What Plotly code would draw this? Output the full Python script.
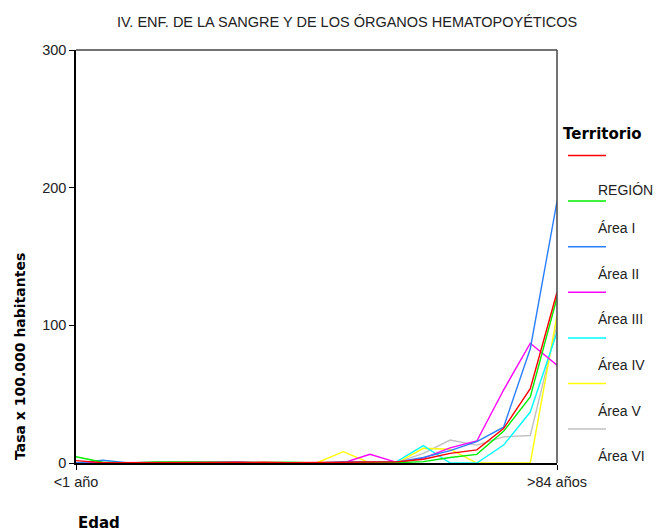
import plotly.graph_objects as go

# ── data ─────────────────────────────────────────────────────────────────────

EDADES = ["<1 año", "1-4", "5-9", "10-14", "15-19", "20-24", "25-29", "30-34",
          "35-39", "40-44", "45-49", "50-54", "55-59", "60-64", "65-69",
          "70-74", "75-79", "80-84", ">84 años"]

REGION = [1.7, 0.3, 0.2, 0.3, 0.5, 0.4, 0.6, 0.5, 0.2, 0.2, 0.5, 0.7, 0.8, 2.7, 7, 9.5, 25, 54, 124]
AREA_I = [4.5, 0.5, 0, 0.8, 0.7, 0.5, 0.3, 0.4, 0.5, 0, 0.3, 0.4, 0.2, 1, 4, 6.3, 23, 48, 120]
AREA_II = [0, 2, 0, 0, 0, 0.5, 0.3, 0, 0, 0, 1, 0.5, 0.5, 4, 9, 15.5, 26, 83, 190]
AREA_III = [0, 0, 0, 0, 0, 0.5, 1, 0, 0, 0, 0, 6.3, 0.5, 3.5, 11, 16, 53, 87, 71]
AREA_IV = [0, 0, 0, 0, 0, 0, 0, 0, 0, 0, 0, 0, 1, 12.6, 0, 0, 13, 37, 95]
AREA_V = [0, 0, 0, 0, 0, 0, 0, 0, 0, 0, 8.2, 0, 0, 10.7, 10, 0, 0, 0, 107]
AREA_VI = [0, 0, 0, 0, 0.5, 0.8, 0.5, 0, 0, 0, 0, 0, 0.5, 7, 16.7, 13, 19, 20, 100]

SERIES = [
    ("REGIÓN", REGION, "#ff0000"),
    ("Área I", AREA_I, "#00ee00"),
    ("Área II", AREA_II, "#2a7fff"),
    ("Área III", AREA_III, "#ff00ff"),
    ("Área IV", AREA_IV, "#00ffff"),
    ("Área V", AREA_V, "#ffff00"),
    ("Área VI", AREA_VI, "#c0c0c0"),
]

FONT = "Arial, Liberation Sans, sans-serif"
BOLD = "DejaVu Sans"

# plot area in page pixels (the page body adds an 8px offset)
PLOT_L, PLOT_R, PLOT_T, PLOT_B = 76, 557, 50, 463


def px_x(x):
    return (x - PLOT_L) / (PLOT_R - PLOT_L)


def px_y(y):
    return (PLOT_B - y) / (PLOT_B - PLOT_T)


# ── figure ───────────────────────────────────────────────────────────────────

fig = go.Figure()
# draw in reverse so REGIÓN sits on top
for name, values, color in reversed(SERIES):
    fig.add_trace(go.Scatter(
        x=EDADES, y=values, mode="lines", name=name,
        line=dict(color=color, width=1.4),
    ))

fig.update_layout(
    width=654, height=524,
    margin=dict(l=PLOT_L - 8, r=654 - (PLOT_R - 8), t=PLOT_T - 8, b=524 - (PLOT_B - 8)),
    paper_bgcolor="white", plot_bgcolor="white",
    font=dict(family=FONT, size=14.5, color="#222"),
    title=dict(text="IV. ENF. DE LA SANGRE Y DE LOS ÓRGANOS HEMATOPOYÉTICOS",
               x=109 / 654, xanchor="left", y=1 - 14 / 524, yanchor="middle",
               font=dict(size=14.5, color="#222")),
    showlegend=False,
)

fig.update_xaxes(
    type="category", range=[0, len(EDADES) - 1],
    tickvals=[EDADES[0], EDADES[-1]],
    ticks="outside", ticklen=5, tickcolor="black",
    showline=True, linecolor="black", linewidth=1.5,
    showgrid=False, zeroline=False,
)
fig.update_yaxes(
    range=[0, 300], tickvals=[0, 100, 200, 300],
    ticks="outside", ticklen=5, tickcolor="black",
    showline=True, linecolor="black", linewidth=1.5,
    showgrid=False, zeroline=False,
)

# top and right frame lines
fig.add_shape(type="line", xref="paper", yref="paper", x0=0, x1=1, y0=1, y1=1,
              line=dict(color="#444", width=1.5))
fig.add_shape(type="line", xref="paper", yref="paper", x0=1, x1=1, y0=0, y1=1,
              line=dict(color="#444", width=1.5))

# ── legend: key line above, label below (drawn by hand) ──────────────────────
fig.add_annotation(text="<b>Territorio</b>", xref="paper", yref="paper",
                   x=px_x(561), y=px_y(134), xanchor="left", yanchor="middle",
                   showarrow=False, font=dict(family=BOLD, size=15, color="black"))
for i, (name, _, color) in enumerate(SERIES):
    line_y = 155.5 + 45.6 * i
    text_y = line_y + (34 if i == 0 else 27)
    fig.add_shape(type="line", xref="paper", yref="paper",
                  x0=px_x(568), x1=px_x(606), y0=px_y(line_y), y1=px_y(line_y),
                  line=dict(color=color, width=1.5))
    fig.add_annotation(text=name, xref="paper", yref="paper",
                       x=px_x(596), y=px_y(text_y), xanchor="left", yanchor="middle",
                       showarrow=False, font=dict(size=14, color="#222"))

fig.add_annotation(text="<b>Tasa x 100.000 habitantes</b>", textangle=-90,
                   xref="paper", yref="paper", x=px_x(20), y=px_y(357),
                   xanchor="center", yanchor="middle", showarrow=False,
                   font=dict(family=BOLD, size=14, color="black"))
fig.add_annotation(text="<b>Edad</b>", xref="paper", yref="paper",
                   x=px_x(76), y=px_y(523), xanchor="left", yanchor="middle",
                   showarrow=False, font=dict(family=BOLD, size=15, color="black"))

fig.write_html("out.html")
